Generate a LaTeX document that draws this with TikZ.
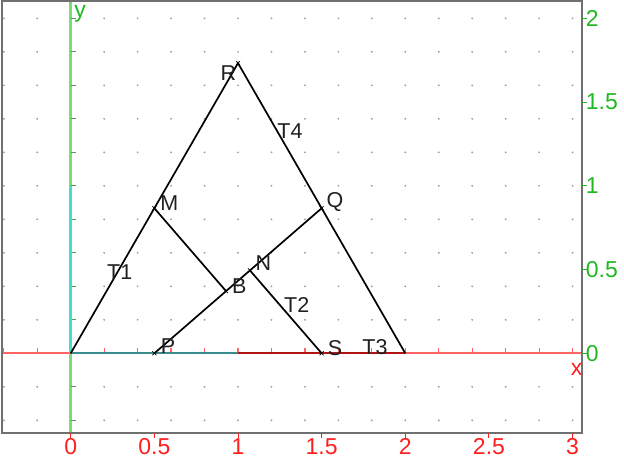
\documentclass[tikz,border=0pt]{standalone}
\usepackage{fontspec}
\setmainfont{Liberation Sans}
\definecolor{dotc}{HTML}{A0A0A0}
\definecolor{framec}{HTML}{707070}
\definecolor{xaxc}{HTML}{FF6464}
\definecolor{yaxc}{HTML}{78DC78}
\definecolor{unitc}{HTML}{40E0D0}
\definecolor{tealc}{HTML}{3A8C8C}
\definecolor{dredc}{HTML}{B01414}
\definecolor{redlab}{HTML}{FF1E1E}
\definecolor{greenlab}{HTML}{20B820}
\definecolor{labc}{HTML}{202020}
\begin{document}
\begin{tikzpicture}[x=167.3pt,y=167.5pt,
  lab/.style={font=\fontsize{21.5}{24}\selectfont, inner sep=0pt, text=labc},
  axlab/.style={font=\fontsize{23}{26}\selectfont, inner sep=0pt},
  seg/.style={line width=1.7pt, black},
  ptmark/.style={line width=0.7pt, black}]
\useasboundingbox (-70.7pt,-104.7pt) rectangle (553.3pt,353.3pt);
% grid dots
\foreach \i in {-2,...,15}
  \foreach \j in {-2,...,10}
    \fill[dotc] (\i*0.2,\j*0.2) circle (1.05pt);
% axes
\draw[yaxc, line width=2.6pt] (0,-0.476) -- (0,2.103);
\draw[xaxc, line width=2pt] (-0.411,0) -- (3.056,0);
\foreach \i in {-2,...,15} \draw[xaxc, line width=1.2pt] (\i*0.2,0) -- ++(0,5pt);
\foreach \j in {-2,...,10} \draw[yaxc!70!black, line width=1.2pt] (0,\j*0.2) -- ++(5pt,0);
\draw[unitc, line width=2.6pt] (0,0) -- (0,1);
% frame
\draw[framec, line width=2pt] (-0.411,-0.476) rectangle (3.056,2.103);
% frame ticks and labels
\foreach \v/\t in {0/0,0.5/0.5,1/1,1.5/1.5,2/2,2.5/2.5,3/3}{
  \draw[redlab, line width=1pt] (\v,-0.476) -- ++(0,-5pt);
  \node[axlab, text=redlab, anchor=base] at (\v,-0.603) {\t};
}
\foreach \v/\t in {0/0,0.5/0.5,1/1,1.5/1.5,2/2}{
  \draw[greenlab, line width=1pt] (3.056,\v) -- ++(5pt,0);
  \node[axlab, text=greenlab, anchor=west] at (3.078,\v) {\t};
}
\node[axlab, text=greenlab] (ylab) at (0.056,2.025) {y};
\node[axlab, text=redlab] (xlab) at (3.024,-0.095) {x};
% points
\coordinate (O) at (0,0);
\coordinate (U) at (1,0);
\coordinate (C) at (2,0);
\coordinate (R) at (1,1.7320508);
\coordinate (M) at (0.5,0.8660254);
\coordinate (Q) at (1.5,0.8660254);
\coordinate (P) at (0.5,0);
\coordinate (S) at (1.5,0);
\coordinate (B) at (0.928571,0.371154);
\coordinate (N) at (1.071429,0.494872);
% triangle
\draw[tealc, line width=2.2pt] (O) -- (U);
\draw[dredc, line width=2.2pt] (U) -- (C);
\draw[seg] (O) -- (R) -- (C);
\draw[seg] (P) -- (Q);
\draw[seg] (M) -- (B);
\draw[seg] (S) -- (N);
\foreach \p in {R,M,Q,P,S,B,N}
  \draw[ptmark] (\p) +(-2pt,-2pt) -- +(2pt,2pt) +(-2pt,2pt) -- +(2pt,-2pt);
% labels
\node[lab] (lR) at (0.942,1.672) {R};
\node[lab] (lM) at (0.589,0.899) {M};
\node[lab] (lB) at (1.008,0.402) {B};
\node[lab] (lN) at (1.151,0.537) {N};
\node[lab] (lQ) at (1.580,0.905) {Q};
\node[lab] (lP) at (0.582,0.044) {P};
\node[lab] (lS) at (1.580,0.030) {S};
\node[lab] (lT1) at (0.293,0.484) {T1};
\node[lab] (lT2) at (1.351,0.288) {T2};
\node[lab] (lT3) at (1.819,0.040) {T3};
\node[lab] (lT4) at (1.311,1.329) {T4};
\end{tikzpicture}
\end{document}
